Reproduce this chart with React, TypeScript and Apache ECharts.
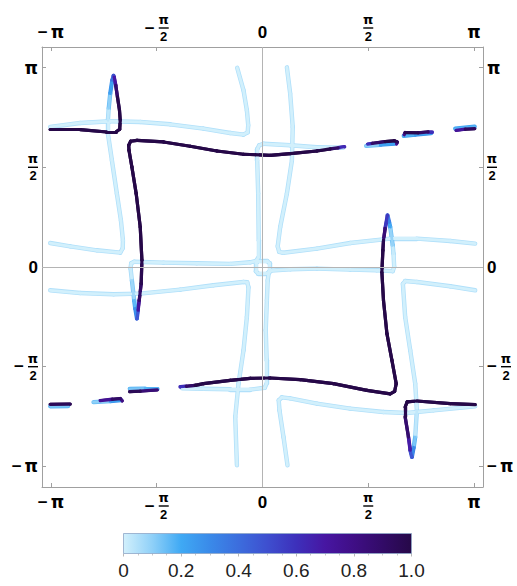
import React, { useEffect, useRef } from "react";
import * as echarts from "echarts";

const PI = Math.PI;
const X_MIN = -3.275;
const X_MAX = 3.275;
const Y_MIN = -3.466;
const Y_MAX = 3.466;
const frameTicks = [-PI, -PI / 2, 0, PI / 2, PI];
const colorbarTicks = [0, 0.2, 0.4, 0.6, 0.8, 1.0];

const paletteStops: Array<[number, string]> = [
  [0, "#d2f0fc"],
  [0.1, "#8fd0f8"],
  [0.2, "#3fa9f4"],
  [0.3, "#3a8ae9"],
  [0.4, "#3c6ddd"],
  [0.5, "#3e4fcf"],
  [0.6, "#3d30bb"],
  [0.7, "#4716a2"],
  [0.8, "#3f0e85"],
  [0.9, "#320b67"],
  [1, "#260848"],
];

// mixed curves: [x, y, value]
const loopUpper = [
  [1.218, 1.894, 0.45], [1.124, 1.878, 0.8], [1.005, 1.862, 1], [0.808, 1.828, 1],
  [0.411, 1.787, 1], [0.114, 1.76, 1], [-0.282, 1.776, 1], [-0.677, 1.828, 1],
  [-1.074, 1.902, 1], [-1.47, 1.97, 1], [-1.865, 1.996, 1], [-1.958, 1.981, 1],
  [-1.987, 1.918, 1], [-1.983, 1.839, 1], [-1.94, 1.576, 1], [-1.876, 1.156, 1],
  [-1.816, 0.63, 1], [-1.791, 0.106, 1], [-1.802, -0.262, 0.95], [-1.831, -0.525, 0.85],
  [-1.849, -0.682, 0.6], [-1.865, -0.813, 0.35], [-1.891, -0.651, 0.2], [-1.906, -0.525, 0.12],
  [-1.94, -0.21, 0.03], [-1.96, -0.02, 0], [-1.95, 0.058, 0], [-1.906, 0.082, 0],
  [-1.47, 0.069, 0], [-0.974, 0.058, 0], [-0.48, 0.05, 0], [-0.183, 0.074, 0],
  [-0.094, 0.098, 0], [-0.059, 0.153, 0], [-0.056, 0.421, 0], [-0.064, 1.156, 0],
  [-0.079, 1.681, 0], [-0.079, 1.855, 0], [-0.049, 1.918, 0], [0.015, 1.941, 0],
  [0.411, 1.918, 0], [0.808, 1.886, 0], [1.199, 1.878, 0],
];

const loopLower = [
  [-1.222, -1.888, 0.4], [-1.133, -1.88, 0.8], [-1.0, -1.864, 1], [-0.876, -1.837, 1],
  [-0.48, -1.785, 1], [-0.183, -1.754, 1], [0.114, -1.749, 1], [0.56, -1.774, 1],
  [1.054, -1.837, 1], [1.551, -1.943, 1], [1.897, -1.998, 1], [1.963, -1.958, 1],
  [1.986, -1.837, 1], [1.922, -1.47, 1], [1.848, -1.049, 1], [1.797, -0.525, 1],
  [1.773, -0.079, 1], [1.788, 0.263, 1], [1.797, 0.421, 0.95], [1.822, 0.61, 0.75],
  [1.857, 0.815, 0.4], [1.882, 0.704, 0.25], [1.897, 0.63, 0.15], [1.934, 0.342, 0.03],
  [1.946, 0.211, 0], [1.956, 0.0, 0], [1.934, -0.065, 0], [1.699, -0.052, 0],
  [1.303, -0.041, 0], [0.808, -0.025, 0], [0.411, -0.036, 0], [0.129, -0.057, 0],
  [0.092, -0.099, 0], [0.077, -0.21, 0], [0.065, -0.525, 0], [0.048, -0.997, 0],
  [0.062, -1.47, 0], [0.062, -1.832, 0], [0.033, -1.903, 0], [-0.183, -1.932, 0],
  [-0.48, -1.927, 0], [-0.881, -1.919, 0], [-1.193, -1.911, 0],
];

const tipLoopLeft = [
  [-3.153, 2.165, 1], [-2.708, 2.165, 1], [-2.311, 2.127, 1], [-2.173, 2.13, 1],
  [-2.121, 2.17, 1], [-2.113, 2.311, 1], [-2.124, 2.469, 1], [-2.154, 2.679, 0.95],
  [-2.18, 2.863, 0.8], [-2.203, 2.989, 0.6], [-2.213, 3.013, 0.45], [-2.232, 2.942, 0.3],
  [-2.262, 2.732, 0.15], [-2.284, 2.5, 0.05], [-2.296, 2.311, 0], [-2.296, 2.102, 0],
  [-2.237, 1.681, 0], [-2.163, 1.156, 0], [-2.103, 0.736, 0], [-2.073, 0.421, 0],
  [-2.076, 0.295, 0], [-2.113, 0.227, 0], [-2.46, 0.263, 0], [-2.856, 0.326, 0],
  [-3.153, 0.378, 0],
];

const tipLoopRight = [
  [3.159, -0.367, 0], [2.788, -0.304, 0], [2.293, -0.236, 0], [2.119, -0.221, 0],
  [2.085, -0.265, 0], [2.119, -0.788, 0], [2.194, -1.312, 0], [2.268, -1.837, 0],
  [2.293, -2.258, 0], [2.268, -2.679, 0.05], [2.246, -2.841, 0.2], [2.219, -2.994, 0.4],
  [2.194, -2.888, 0.55], [2.168, -2.679, 0.8], [2.119, -2.363, 0.95], [2.119, -2.206, 1],
  [2.149, -2.124, 1], [2.293, -2.111, 1], [2.788, -2.152, 1], [3.159, -2.168, 1],
];

// short broken pieces (upper right, lower left)
const dashUpper2Dark = [[1.562, 1.933, 0.4], [1.629, 1.946, 0.8], [1.822, 1.976, 1], [1.956, 1.988, 1], [2.001, 1.968, 0.9], [1.99, 1.941, 0.6]];
const dashUpper2Light = [[1.54, 1.91, 0.05], [1.748, 1.925, 0.15], [1.963, 1.941, 0.3]];
const dashUpper3Dark = [[2.105, 2.083, 0.6], [2.119, 2.118, 0.95], [2.312, 2.114, 1], [2.461, 2.127, 0.8], [2.52, 2.13, 0.4]];
const dashUpper3Light = [[2.097, 2.067, 0.1], [2.268, 2.086, 0.25], [2.506, 2.107, 0.2]];
const dashUpper4Dark = [[2.877, 2.154, 0.5], [3.011, 2.173, 0.95], [3.152, 2.181, 0.9]];
const dashUpper4Light = [[2.862, 2.181, 0.2], [3.152, 2.212, 0.15]];
const dashLower1Dark = [[-3.153, -2.163, 1], [-2.856, -2.159, 0.9]];
const dashLower1Light = [[-3.153, -2.195, 0.1], [-2.886, -2.192, 0.15]];
const dashLower2Dark = [[-2.411, -2.108, 0.6], [-2.232, -2.085, 0.9], [-2.113, -2.073, 0.9], [-2.084, -2.108, 0.7]];
const dashLower2Light = [[-2.51, -2.129, 0.05], [-2.262, -2.113, 0.15], [-2.099, -2.1, 0.3]];
const dashLower3Dark = [[-1.972, -1.963, 0.9], [-1.816, -1.954, 1], [-1.564, -1.935, 0.7]];
const dashLower3Light = [[-1.972, -1.919, 0.1], [-1.742, -1.916, 0.15], [-1.559, -1.911, 0.2]];

// light-only curves: [x, y]
const curveUpperLeftHook = [
  [-3.153, 2.206], [-2.708, 2.269], [-2.262, 2.296], [-1.816, 2.285], [-1.371, 2.248],
  [-0.876, 2.181], [-0.48, 2.111], [-0.282, 2.086], [-0.22, 2.122], [-0.212, 2.233],
  [-0.232, 2.469], [-0.282, 2.784], [-0.376, 3.139],
];
const curveUpperRightHook = [
  [0.362, 3.146], [0.411, 2.732], [0.449, 2.206], [0.437, 1.681], [0.362, 1.156],
  [0.263, 0.63], [0.226, 0.326], [0.248, 0.239], [0.307, 0.224], [0.808, 0.29],
  [1.303, 0.378], [1.897, 0.447], [2.293, 0.447], [2.788, 0.41], [3.159, 0.369],
];
const curveLowerLeftHook = [
  [-3.153, -0.367], [-2.708, -0.41], [-2.213, -0.43], [-1.816, -0.419], [-1.222, -0.356],
  [-0.728, -0.288], [-0.282, -0.236], [-0.227, -0.241], [-0.208, -0.32], [-0.232, -0.788],
  [-0.282, -1.312], [-0.356, -1.837], [-0.405, -2.363], [-0.38, -3.124],
];
const curveLowerRightHook = [
  [0.371, -3.124], [0.312, -2.679], [0.252, -2.258], [0.241, -2.1], [0.288, -2.053],
  [0.411, -2.069], [0.808, -2.152], [1.303, -2.231], [1.797, -2.285], [2.145, -2.3],
  [2.54, -2.258], [3.159, -2.195],
];
const originSquare = [
  [-0.064, 0.095], [0.07, 0.095], [0.104, 0.058], [0.104, -0.068], [0.07, -0.104],
  [-0.064, -0.104], [-0.098, -0.068], [-0.098, 0.058], [-0.064, 0.095],
];

const mixedCurves = [
  loopUpper, loopLower, tipLoopLeft, tipLoopRight,
  dashUpper2Light, dashUpper2Dark, dashUpper3Light, dashUpper3Dark, dashUpper4Light, dashUpper4Dark,
  dashLower1Light, dashLower1Dark, dashLower2Light, dashLower2Dark, dashLower3Light, dashLower3Dark,
];
const lightCurves = [curveUpperLeftHook, curveUpperRightHook, curveLowerLeftHook, curveLowerRightHook, originSquare];

const FONT = "'Liberation Sans', Arial, sans-serif";
const PI_FONT = "'DejaVu Sans', 'Liberation Sans', sans-serif";

function hexToRgb(h: string): number[] {
  const n = parseInt(h.slice(1), 16);
  return [(n >> 16) & 255, (n >> 8) & 255, n & 255];
}
function colorAt(t: number): string {
  const u = Math.max(0, Math.min(1, t));
  for (let i = 1; i < paletteStops.length; i++) {
    const [t1, c1] = paletteStops[i - 1];
    const [t2, c2] = paletteStops[i];
    if (u <= t2) {
      const f = (u - t1) / (t2 - t1);
      const a = hexToRgb(c1);
      const b = hexToRgb(c2);
      return `rgb(${Math.round(a[0] + (b[0] - a[0]) * f)},${Math.round(a[1] + (b[1] - a[1]) * f)},${Math.round(a[2] + (b[2] - a[2]) * f)})`;
    }
  }
  return paletteStops[paletteStops.length - 1][1];
}

function frameLabel(value: number): string {
  const k = Math.round(value / (PI / 2));
  if (k === 0) return "{s|0}";
  if (k === 2) return "{p|π}";
  if (k === -2) return "{s|−}{g| }{p|π}";
  if (k === 1) return "{n|π}\n{bar| }\n{d|2}";
  return "{h| }{n|π}\n{m|−}{bar| }\n{h| }{d|2}";
}

const rich = {
  s: { fontSize: 17, fontWeight: "bold", fontFamily: FONT, lineHeight: 22, color: "#000" },
  p: { fontSize: 17, fontWeight: "bold", fontFamily: PI_FONT, lineHeight: 22, color: "#000" },
  g: { fontSize: 10, lineHeight: 22, width: 3 },
  n: { fontSize: 13, fontWeight: "bold", fontFamily: PI_FONT, lineHeight: 13, width: 10, align: "center", color: "#000" },
  d: { fontSize: 13, fontWeight: "bold", fontFamily: FONT, lineHeight: 13, width: 10, align: "center", color: "#000" },
  m: { fontSize: 17, fontWeight: "bold", fontFamily: FONT, lineHeight: 4, width: 14, align: "left", color: "#000" },
  h: { fontSize: 13, fontFamily: FONT, lineHeight: 13, width: 14, align: "left", color: "rgba(0,0,0,0)" },
  bar: { fontSize: 1, lineHeight: 4, width: 10, height: 1.4, align: "center", backgroundColor: "#000", color: "rgba(0,0,0,0)" },
};

function frameAxis(extra: any, min: number, max: number) {
  return {
    type: "value",
    min,
    max,
    axisLine: { show: true, onZero: false, lineStyle: { color: "#a0a0a0", width: 1 } },
    axisTick: { show: true, inside: true, length: 4, customValues: frameTicks, lineStyle: { color: "#a0a0a0" } },
    axisLabel: { show: true, customValues: frameTicks, formatter: frameLabel, rich, margin: 4 },
    splitLine: { show: false },
    ...extra,
  };
}

export default function App() {
  const ref = useRef<HTMLDivElement>(null);
  useEffect(() => {
    document.body.style.margin = "0";
    if (!ref.current) return;
    const chart = echarts.init(ref.current, undefined, { renderer: "svg" });

    const segs: Array<{ coords: number[][]; v: number }> = [];
    for (const c of lightCurves) {
      for (let i = 0; i < c.length - 1; i++) {
        segs.push({ coords: [[c[i][0], c[i][1]], [c[i + 1][0], c[i + 1][1]]], v: 0 });
      }
    }
    for (const c of mixedCurves) {
      for (let i = 0; i < c.length - 1; i++) {
        segs.push({ coords: [[c[i][0], c[i][1]], [c[i + 1][0], c[i + 1][1]]], v: (c[i][2] + c[i + 1][2]) / 2 });
      }
    }
    segs.sort((a, b) => a.v - b.v);
    const outlineData = segs.map((s) => ({
      coords: s.coords,
      lineStyle: { color: colorAt(s.v + 0.05), width: 4.4 - 1.2 * s.v, opacity: 1, cap: "round", join: "round" },
    }));
    const fillData = segs.map((s) => ({
      coords: s.coords,
      lineStyle: { color: colorAt(s.v), width: 2.8 + 0.4 * s.v, opacity: 1, cap: "round", join: "round" },
    }));

    const gradient = new echarts.graphic.LinearGradient(
      0, 0, 1, 0,
      paletteStops.map(([o, c]) => ({ offset: o, color: c }))
    );

    chart.setOption({
      animation: false,
      backgroundColor: "#fff",
      grid: [
        { left: 42, top: 47, width: 441, height: 440 },
        { left: 123.5, top: 533.5, width: 288, height: 20 },
      ],
      xAxis: [
        frameAxis({ gridIndex: 0, position: "bottom" }, X_MIN, X_MAX),
        frameAxis({ gridIndex: 0, position: "top" }, X_MIN, X_MAX),
        {
          type: "value",
          gridIndex: 1,
          min: colorbarTicks[0],
          max: colorbarTicks[colorbarTicks.length - 1],
          interval: 0.2,
          position: "bottom",
          axisLine: { show: false },
          axisTick: { show: true, length: 3, lineStyle: { color: "#b8b8b8" } },
          minorTick: { show: true, splitNumber: 4, length: 2, lineStyle: { color: "#c8c8c8" } },
          splitLine: { show: false },
          axisLabel: {
            margin: 7,
            fontSize: 19,
            fontFamily: FONT,
            color: "#222",
            formatter: (v: number) => (v === 0 ? "0" : v.toFixed(1)),
          },
        },
      ],
      yAxis: [
        frameAxis({ gridIndex: 0, position: "left" }, Y_MIN, Y_MAX),
        frameAxis({ gridIndex: 0, position: "right" }, Y_MIN, Y_MAX),
        { type: "value", gridIndex: 1, min: 0, max: 1, show: false },
      ],
      series: [
        {
          type: "scatter",
          xAxisIndex: 0,
          yAxisIndex: 0,
          data: [[0, 0]],
          symbolSize: 0,
          silent: true,
          z: 1,
          markLine: {
            silent: true,
            symbol: "none",
            label: { show: false },
            lineStyle: { color: "#b4b4b4", width: 1, type: "solid" },
            data: [{ xAxis: 0 }, { yAxis: 0 }],
          },
        },
        {
          type: "lines",
          coordinateSystem: "cartesian2d",
          xAxisIndex: 0,
          yAxisIndex: 0,
          silent: true,
          z: 3,
          lineStyle: { opacity: 1, cap: "round", join: "round" },
          data: outlineData,
        },
        {
          type: "lines",
          coordinateSystem: "cartesian2d",
          xAxisIndex: 0,
          yAxisIndex: 0,
          silent: true,
          z: 4,
          lineStyle: { opacity: 1, cap: "round", join: "round" },
          data: fillData,
        },
        {
          type: "scatter",
          xAxisIndex: 2,
          yAxisIndex: 2,
          data: [[0, 0]],
          symbolSize: 0,
          silent: true,
          markArea: {
            silent: true,
            itemStyle: { color: gradient, borderColor: "#8ea6c6", borderWidth: 0.8 },
            data: [[{ coord: [0, 0] }, { coord: [1, 1] }]],
          },
        },
      ],
    });
    return () => chart.dispose();
  }, []);
  return <div ref={ref} style={{ width: 517, height: 586 }} />;
}
